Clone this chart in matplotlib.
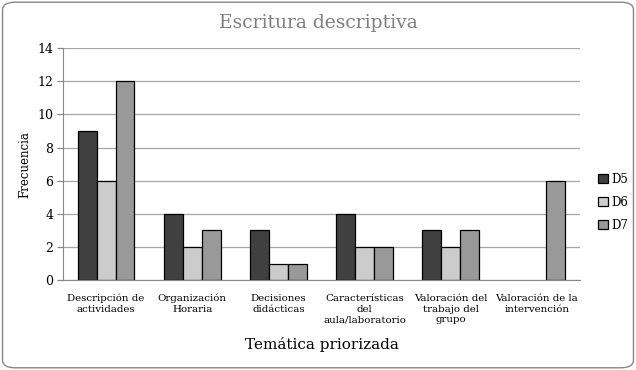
import numpy as np
import matplotlib
matplotlib.use('Agg')
import matplotlib.pyplot as plt
from matplotlib.patches import FancyBboxPatch

plt.rcParams['font.family'] = ['DejaVu Serif']

# Data
categories = ['Descripción de\nactividades', 'Organización\nHoraria', 'Decisiones\ndidácticas',
              'Características\ndel\naula/laboratorio', 'Valoración del\ntrabajo del\ngrupo',
              'Valoración de la\nintervención']
series_names = ['D5', 'D6', 'D7']
d5 = [9, 4, 3, 4, 3, 0]
d6 = [6, 2, 1, 2, 2, 0]
d7 = [12, 3, 1, 2, 3, 6]
colors = ['#404040', '#cccccc', '#999999']

fig = plt.figure(figsize=(6.36, 3.70), dpi=100)
ax = fig.add_axes([0.099, 0.243, 0.813, 0.627])

# rounded border of chart area
border = FancyBboxPatch((0.004, 0.006), 0.992, 0.988, boxstyle='round,pad=0,rounding_size=0.02',
                        transform=fig.transFigure, fill=False, edgecolor='#888888', linewidth=1)
fig.patches.append(border)

x = np.arange(len(categories))
w = 0.22
for i, (vals, name) in enumerate(zip([d5, d6, d7], series_names)):
    bars = ax.bar(x + (i - 1) * w, vals, w, color=colors[i], edgecolor='black', linewidth=0.9,
                  label=name, zorder=3)
    for b, v in zip(bars, vals):
        if v == 0:
            b.set_visible(False)

ax.set_xlim(-0.5, len(categories) - 0.5)
ax.set_ylim(0, 14)
ax.set_yticks(range(0, 15, 2))
ax.yaxis.grid(True, color='#a6a6a6', linewidth=0.9, zorder=0)
ax.set_xticks(x)
ax.set_xticklabels(categories, fontsize=7.4, linespacing=1.25)
ax.tick_params(axis='x', length=0, pad=10)
ax.tick_params(axis='y', labelsize=9, length=4, color='#888888', width=0.9, pad=3)
for s in ['top', 'right']:
    ax.spines[s].set_visible(False)
ax.spines['left'].set_color('#888888')
ax.spines['bottom'].set_color('#888888')

ax.set_ylabel('Frecuencia', fontsize=8.5, labelpad=4)
ax.set_xlabel('Temática priorizada', fontsize=11, labelpad=9)
fig.text(0.5, 0.938, 'Escritura descriptiva', ha='center', va='center', fontsize=13.5, color='#7f7f7f')

ax.legend(loc='center left', bbox_to_anchor=(1.015, 0.336), frameon=False, fontsize=8.5,
          handlelength=0.8, handleheight=0.8, handletextpad=0.3, labelspacing=0.85)

fig.savefig('out.png', dpi=100)
